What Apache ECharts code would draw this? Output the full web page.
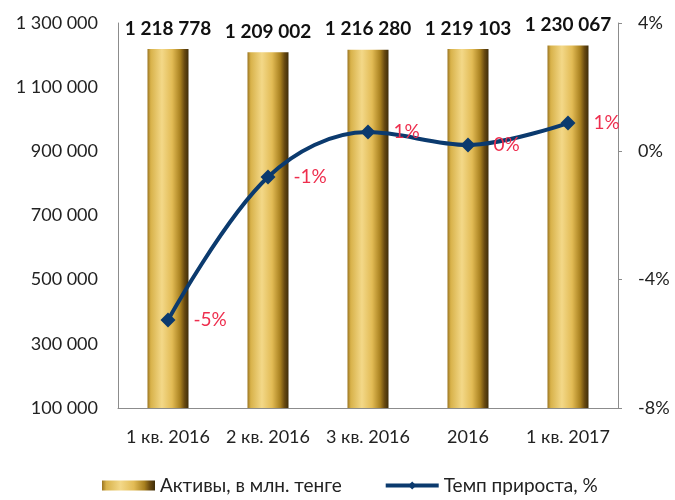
<!DOCTYPE html>
<html><head><meta charset="utf-8">
<script src="https://cdn.jsdelivr.net/npm/echarts@6/dist/echarts.min.js"></script>
<style>html,body{margin:0;padding:0;background:#fff}#c{width:675px;height:500px}</style>
</head><body><div id="c"></div>
<script>
var categories = ['1 кв. 2016', '2 кв. 2016', '3 кв. 2016', '2016', '1 кв. 2017'];
var assets = [1218778, 1209002, 1216280, 1219103, 1230067];
var growth = [-5.26, -0.80, 0.60, 0.20, 0.88];
var growthLabels = ['-5%', '-1%', '1%', '0%', '1%'];
var leftTicks = [100000, 300000, 500000, 700000, 900000, 1100000, 1300000];
var rightTicks = [-8, -4, 0, 4];

var FONT = 'Lato';
function fmtNum(v){ return String(v).replace(/\B(?=(\d{3})+(?!\d))/g, ' '); }
var gold = new echarts.graphic.LinearGradient(0,0,1,0,[
  {offset:0, color:'#9a7420'},
  {offset:0.08, color:'#d8b24a'},
  {offset:0.35, color:'#f3d888'},
  {offset:0.6, color:'#e2bb55'},
  {offset:0.8, color:'#a8801f'},
  {offset:0.9, color:'#6a4b10'},
  {offset:1, color:'#3e2c08'}
]);
var chart = echarts.init(document.getElementById('c'), null, {renderer:'canvas'});
chart.setOption({
  animation:false,
  textStyle:{fontFamily:FONT},
  grid:{left:118, right:57, top:23, bottom:92},
  legend:{
    bottom:0, left:97, itemGap:42, itemWidth:53, itemHeight:10,
    textStyle:{fontFamily:FONT, fontSize:19, color:'#222'},
    data:[{name:'Активы, в млн. тенге', icon:'rect'}, {name:'Темп прироста, %', lineStyle:{width:4}}]
  },
  xAxis:{
    type:'category', data:categories,
    axisLine:{onZero:false, lineStyle:{color:'#8c8c8c', width:1}},
    axisTick:{show:false},
    axisLabel:{fontFamily:FONT, fontSize:18, color:'#222', margin:20, interval:0}
  },
  yAxis:[{
    type:'value', min:100000, max:1300000, interval:200000,
    axisLine:{show:true, lineStyle:{color:'#8c8c8c'}},
    axisTick:{show:false}, splitLine:{show:false},
    axisLabel:{fontFamily:FONT, fontSize:18, color:'#222', margin:20, formatter:function(v){return fmtNum(v);}}
  },{
    type:'value', min:-8, max:4, interval:4, position:'right',
    axisLine:{show:true, lineStyle:{color:'#8c8c8c'}},
    axisTick:{show:true, length:4, lineStyle:{color:'#8c8c8c'}}, splitLine:{show:false},
    axisLabel:{fontFamily:FONT, fontSize:18, color:'#222', margin:20, formatter:function(v){return v+'%';}}
  }],
  series:[{
    name:'Активы, в млн. тенге', type:'bar', data:assets, barWidth:41, yAxisIndex:0,
    itemStyle:{color:gold},
    label:{show:true, position:'top', distance:11, fontFamily:FONT, fontSize:19, fontWeight:'bold', color:'#111',
      formatter:function(p){return fmtNum(p.value);}}
  },{
    name:'Темп прироста, %', type:'line', data:growth, yAxisIndex:1, smooth:0.35, z:5,
    symbol:'diamond', symbolSize:15,
    lineStyle:{color:'#0b3a6e', width:4},
    itemStyle:{color:'#0b3a6e'},
    label:{show:true, position:'right', distance:18, fontFamily:FONT, fontSize:19, color:'#ee2e4e',
      formatter:function(p){return growthLabels[p.dataIndex];}}
  }]
});
</script></body></html>
